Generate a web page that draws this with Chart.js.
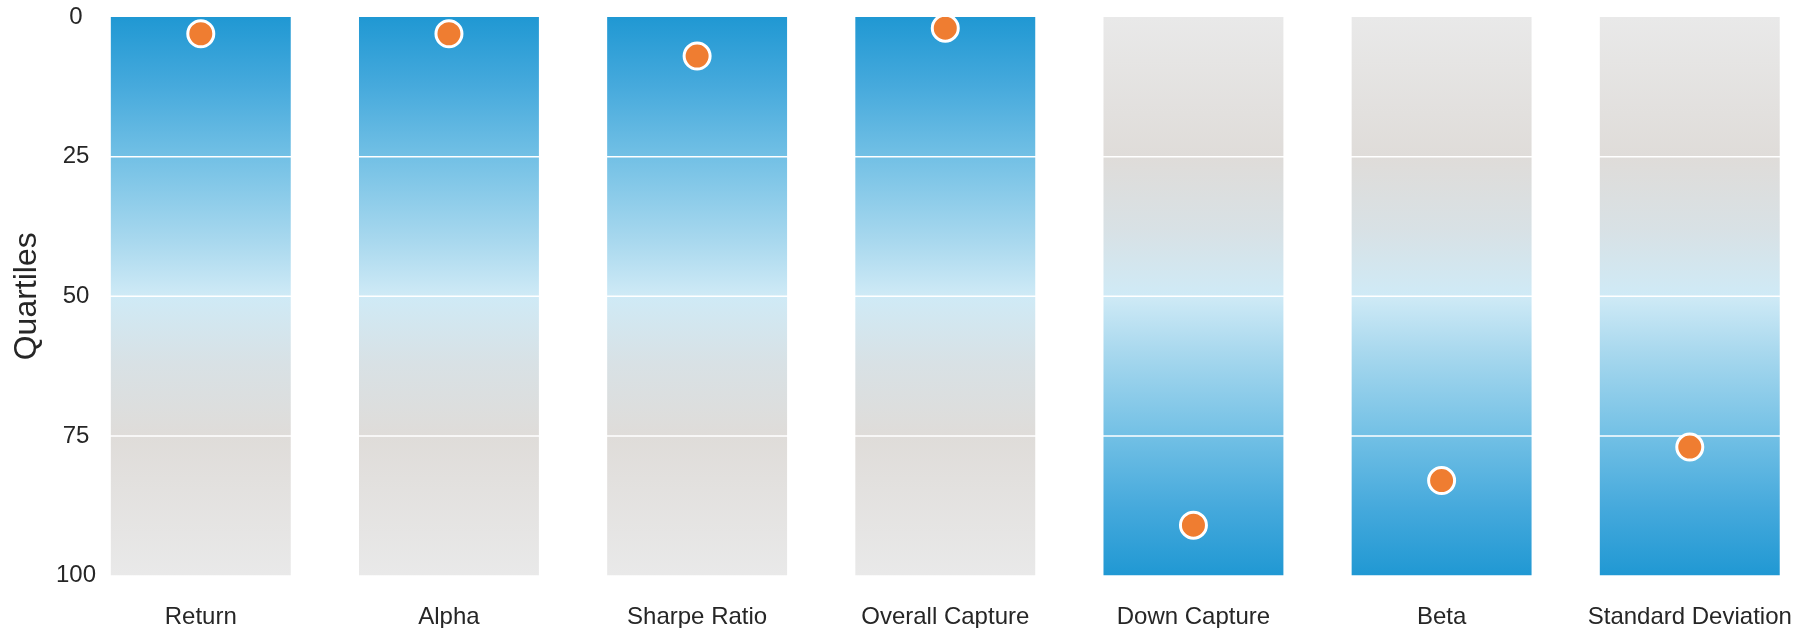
<!DOCTYPE html>
<html>
<head>
<meta charset="utf-8">
<script src="https://cdn.jsdelivr.net/npm/chart.js@4/dist/chart.umd.min.js"></script>
<style>
  html, body { margin: 0; padding: 0; background: #ffffff; overflow: hidden; }
  #wrap { width: 1810px; height: 628px; position: relative; }
</style>
</head>
<body>
<div id="wrap"><canvas id="c"></canvas></div>
<script>
// ---- data ----
const categories = ['Return', 'Alpha', 'Sharpe Ratio', 'Overall Capture', 'Down Capture', 'Beta', 'Standard Deviation'];
const percentiles = [3, 3, 7, 2, 91, 83, 77];
const quartileRange = [0, 100];
const quartileTicks = [0, 25, 50, 75, 100];
// true = blue at the top (low rank is good), false = blue at the bottom
const blueOnTop = [true, true, true, true, false, false, false];

const FONT = '"Liberation Sans", "Helvetica Neue", Helvetica, Arial, sans-serif';
const TEXT = '#262626';

const topStops = [
  [0.00, '#2098d3'],
  [0.12, '#45a9dc'],
  [0.25, '#72c0e5'],
  [0.40, '#a8d8ee'],
  [0.50, '#cfeaf6'],
  [0.62, '#d8e1e5'],
  [0.75, '#dfdcd9'],
  [1.00, '#e9e9e9']
];

const gradCache = {};
function barGradient(ctx) {
  const chart = ctx.chart;
  const area = chart.chartArea;
  if (!area) return '#cccccc';
  const up = blueOnTop[ctx.dataIndex];
  const key = (up ? 'u' : 'd') + area.top + '_' + area.bottom;
  if (gradCache[key]) return gradCache[key];
  const g = chart.ctx.createLinearGradient(0, area.top, 0, area.bottom);
  topStops.forEach(([p, c]) => g.addColorStop(up ? p : 1 - p, c));
  gradCache[key] = g;
  return g;
}

const gridOverBars = {
  id: 'gridOverBars',
  afterDatasetDraw(chart, args) {
    if (args.index !== 0) return;
    const ys = chart.scales.y;
    const area = chart.chartArea;
    const c = chart.ctx;
    c.save();
    c.strokeStyle = '#ffffff';
    c.lineWidth = 1.5;
    quartileTicks.forEach(v => {
      if (v === quartileRange[0] || v === quartileRange[1]) return;
      const y = ys.getPixelForValue(v);
      c.beginPath();
      c.moveTo(area.left, y);
      c.lineTo(area.right, y);
      c.stroke();
    });
    c.restore();
  }
};

new Chart(document.getElementById('c'), {
  data: {
    datasets: [
      {
        type: 'bar',
        order: 2,
        data: categories.map((_, i) => ({ x: i, y: quartileRange.slice() })),
        backgroundColor: barGradient,
        borderWidth: 0,
        barPercentage: 0.725,
        categoryPercentage: 1
      },
      {
        type: 'line',
        order: 1,
        data: percentiles.map((v, i) => ({ x: i, y: v })),
        showLine: false,
        pointRadius: 13,
        pointHoverRadius: 13,
        pointBorderWidth: 3,
        pointBorderColor: '#ffffff',
        pointBackgroundColor: '#ef7d31'
      }
    ]
  },
  options: {
    responsive: true,
    maintainAspectRatio: false,
    animation: false,
    layout: { padding: { top: 17, right: 0, left: 0, bottom: 0 } },
    plugins: { legend: { display: false }, tooltip: { enabled: false } },
    scales: {
      x: {
        type: 'linear',
        offset: false,
        min: -0.4021,
        max: 6.42,
        grid: { display: false, drawTicks: false, offset: false },
        border: { display: false },
        afterFit(s) { s.height = 52.5; s.paddingLeft = 0; s.paddingRight = 0; },
        afterBuildTicks(s) { s.ticks = categories.map((_, i) => ({ value: i })); },
        ticks: {
          autoSkip: false,
          maxRotation: 0,
          padding: 27,
          color: TEXT,
          font: { family: FONT, size: 24 },
          callback: v => categories[v] !== undefined ? categories[v] : ''
        }
      },
      y: {
        type: 'linear',
        reverse: true,
        min: quartileRange[0],
        max: quartileRange[1],
        grid: { display: false, drawTicks: false },
        border: { display: false },
        afterFit(s) { s.width = 101; s.paddingTop = 0; s.paddingBottom = 0; },
        afterBuildTicks(s) { s.ticks = quartileTicks.map(v => ({ value: v })); },
        ticks: {
          padding: 5,
          crossAlign: 'center',
          color: TEXT,
          font: { family: FONT, size: 24 }
        },
        title: {
          display: true,
          text: 'Quartiles',
          color: TEXT,
          font: { family: FONT, size: 32 },
          padding: { top: 8, bottom: 0 }
        }
      }
    }
  },
  plugins: [gridOverBars]
});
</script>
</body>
</html>
